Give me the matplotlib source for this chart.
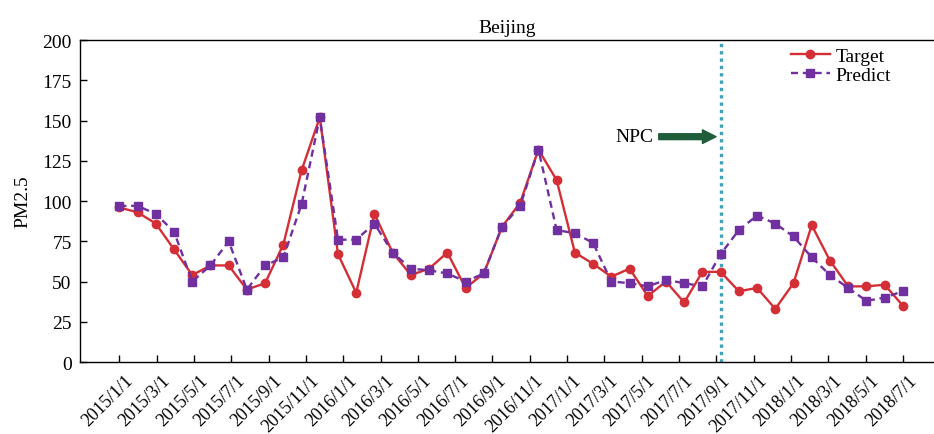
import numpy as np
import matplotlib
matplotlib.use('Agg')
import matplotlib.pyplot as plt
from matplotlib.transforms import ScaledTranslation

plt.rcParams['font.family'] = ['Liberation Serif', 'DejaVu Serif']

# monthly PM2.5, Beijing
target = [96, 93, 86, 70, 54, 60, 60, 45, 49, 73, 119, 152, 67, 43, 92,
          68, 54, 58, 68, 46, 55, 84, 99, 132, 113, 68, 61, 53, 58, 41,
          50, 37, 56, 56, 44, 46, 33, 49, 85, 63, 47, 47, 48, 35]
predict = [97, 97, 92, 81, 50, 60, 75, 45, 60, 65, 98, 152, 76, 76, 86,
           68, 58, 57, 55, 50, 55, 84, 97, 132, 82, 80, 74, 50, 49, 47,
           51, 49, 47, 67, 82, 91, 86, 78, 65, 54, 46, 38, 40, 44]
tick_labels = ['2015/1/1', '2015/3/1', '2015/5/1', '2015/7/1', '2015/9/1', '2015/11/1',
               '2016/1/1', '2016/3/1', '2016/5/1', '2016/7/1', '2016/9/1', '2016/11/1',
               '2017/1/1', '2017/3/1', '2017/5/1', '2017/7/1', '2017/9/1', '2017/11/1',
               '2018/1/1', '2018/3/1', '2018/5/1', '2018/7/1']
npc_idx = 33

x = np.arange(len(target))

fig = plt.figure(figsize=(9.34, 4.35), dpi=100)
ax = fig.add_axes([0.0857, 0.1655, 0.9143, 0.740])

ax.plot(x, target, color='#d42e36', lw=1.7, marker='o', ms=6, label='Target', zorder=3)
ax.plot(x, predict, color='#7030a0', lw=1.7, ls=(0, (3, 2)), marker='s', ms=5.5,
        label='Predict', zorder=4)

ax.axvline(npc_idx, color='#3fa3b8', lw=2.4, ls=(0, (1, 1.2)), zorder=2)
ax.annotate('NPC', xy=(npc_idx - 0.25, 140), xytext=(29.3, 140),
            fontsize=14, ha='right', va='center',
            arrowprops=dict(arrowstyle='simple,head_length=0.7,head_width=0.7,tail_width=0.3',
                            color='#1e5c3a', shrinkA=2, shrinkB=0))

ax.set_xlim(-2.157, 44.71)
ax.set_ylim(0, 200)
ax.set_yticks(np.arange(0, 201, 25))
ax.set_xticks(np.linspace(0, 43, len(tick_labels)))
ax.set_xticklabels(tick_labels, rotation=45, ha='right', va='top', rotation_mode='anchor')
ax.tick_params(direction='in', labelsize=14, length=5, width=1)
ax.tick_params(axis='x', labelsize=13, pad=7)
ax.tick_params(axis='y', pad=6)
shift = ScaledTranslation(5 / 100, 0, fig.dpi_scale_trans)
for lab in ax.get_xticklabels():
    lab.set_transform(lab.get_transform() + shift)
ax.spines['right'].set_visible(False)
for s in ['left', 'top', 'bottom']:
    ax.spines[s].set_linewidth(1.0)

ax.set_ylabel('PM2.5', fontsize=14, labelpad=8)
ax.set_title('Beijing', fontsize=14, pad=6)
ax.legend(loc='upper left', bbox_to_anchor=(0.812, 1.032), frameon=False, fontsize=14,
          handlelength=2.0, handletextpad=0.3, labelspacing=0.05)

fig.savefig('out.png', dpi=100)
